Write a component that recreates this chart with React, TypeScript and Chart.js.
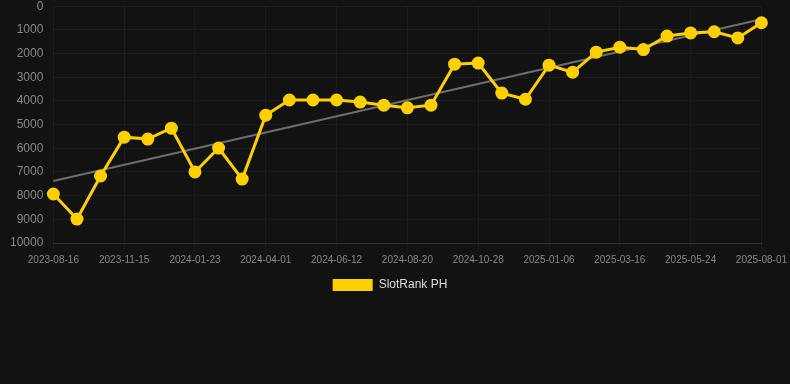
import React, { useEffect, useRef } from "react";
import { Chart, registerables } from "chart.js";

Chart.register(...registerables);

const dates: string[] = [
  "2023-08-16", "2023-09-15", "2023-10-15", "2023-11-15", "2023-12-08", "2023-12-31",
  "2024-01-23", "2024-02-15", "2024-03-09", "2024-04-01", "2024-04-25", "2024-05-19",
  "2024-06-12", "2024-07-05", "2024-07-28", "2024-08-20", "2024-09-12", "2024-10-05",
  "2024-10-28", "2024-11-20", "2024-12-14", "2025-01-06", "2025-01-29", "2025-02-21",
  "2025-03-16", "2025-04-08", "2025-05-01", "2025-05-24", "2025-06-16", "2025-07-09",
  "2025-08-01",
];

const rankValues: number[] = [
  7930, 8990, 7170, 5530, 5610, 5150,
  7000, 5990, 7300, 4600, 3960, 3960,
  3960, 4050, 4180, 4290, 4180, 2450,
  2400, 3670, 3930, 2490, 2790, 1940,
  1730, 1830, 1260, 1130, 1080, 1340,
  700,
];

const trendStart = 7380;
const trendEnd = 550;

const yTicks: number[] = [0, 1000, 2000, 3000, 4000, 5000, 6000, 7000, 8000, 9000, 10000];

export default function App() {
  const canvasRef = useRef<HTMLCanvasElement | null>(null);

  useEffect(() => {
    if (!canvasRef.current) return;
    const trend = dates.map((_, i) =>
      i === 0 ? trendStart : i === dates.length - 1 ? trendEnd : null
    );
    const chart = new Chart(canvasRef.current, {
      type: "line",
      data: {
        labels: dates,
        datasets: [
          {
            label: "SlotRank PH",
            data: rankValues,
            borderColor: "#ffd000",
            backgroundColor: "#ffd000",
            borderWidth: 3,
            pointRadius: 5,
            pointHoverRadius: 5,
            pointBackgroundColor: "#ffd000",
            pointBorderColor: "#ffd000",
            tension: 0,
            order: 1,
          },
          {
            label: "trend",
            data: trend,
            borderColor: "#6e6e6e",
            backgroundColor: "#6e6e6e",
            borderWidth: 2,
            pointRadius: 0,
            spanGaps: true,
            order: 2,
          },
        ],
      },
      options: {
        animation: false,
        responsive: true,
        maintainAspectRatio: false,
        layout: { padding: { left: 0, right: 10 } },
        plugins: {
          legend: {
            position: "bottom",
            labels: {
              color: "#dddddd",
              font: { family: "Liberation Sans, Arial", size: 12 },
              boxWidth: 40,
              boxHeight: 12,
              generateLabels: (c) =>
                Chart.defaults.plugins.legend.labels
                  .generateLabels(c)
                  .filter((it) => it.text !== "trend")
                  .map((it) => ({ ...it, lineWidth: 0 })),
            },
          },
          tooltip: { enabled: false },
        },
        scales: {
          x: {
            grid: { color: "rgba(255,255,255,0.045)" },
            border: { color: "rgba(255,255,255,0.1)" },
            ticks: {
              color: "#888888",
              font: { family: "Liberation Sans, Arial", size: 10 },
              autoSkip: false,
              maxRotation: 0,
              callback: function (_v, index) {
                return index % 3 === 0 ? dates[index] : null;
              },
            },
          },
          y: {
            reverse: true,
            min: 0,
            max: 10000,
            afterBuildTicks: (axis) => {
              axis.ticks = yTicks.map((v) => ({ value: v }));
            },
            grid: { color: "rgba(255,255,255,0.045)", drawTicks: false },
            border: { display: false },
            ticks: {
              color: "#888888",
              padding: 10,
              font: { family: "Liberation Sans, Arial", size: 12 },
              callback: (v) => String(v),
            },
          },
        },
      },
    });
    return () => chart.destroy();
  }, []);

  return (
    <div
      style={{
        position: "fixed",
        left: 0,
        top: 0,
        width: 790,
        height: 384,
        background: "#121212",
        overflow: "hidden",
      }}
    >
      <div style={{ position: "relative", width: 790, height: 312, marginTop: -11 }}>
        <canvas ref={canvasRef} />
      </div>
    </div>
  );
}
